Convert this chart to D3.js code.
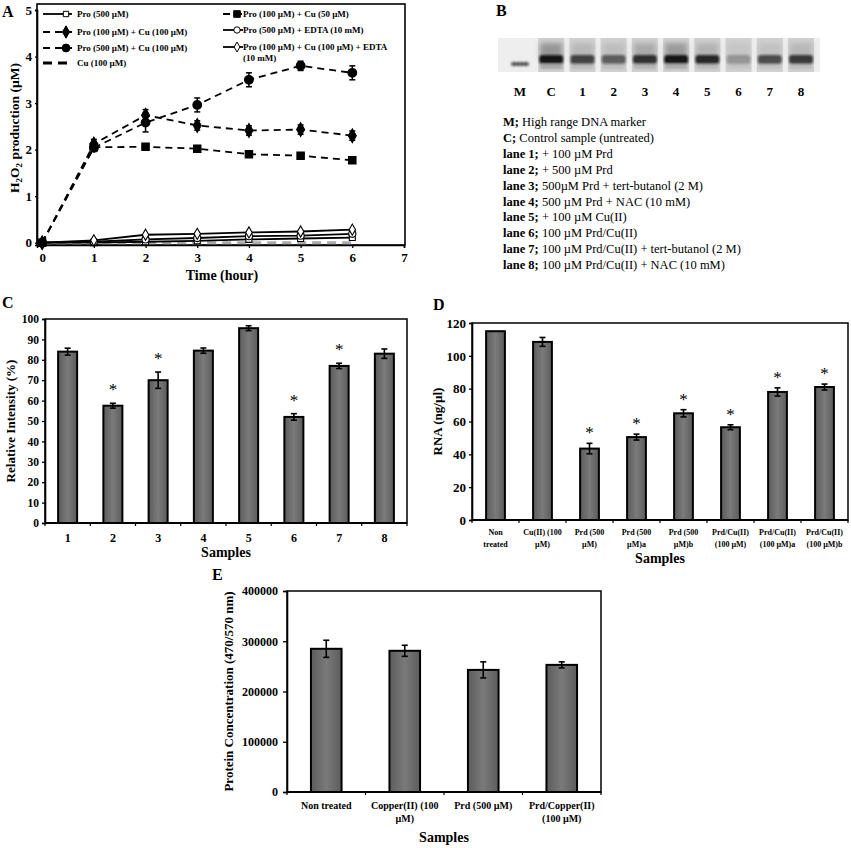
<!DOCTYPE html>
<html>
<head>
<meta charset="utf-8">
<script src="https://cdn.jsdelivr.net/npm/d3@7"></script>
<style>
  body { margin: 0; background: #fff; }
  text { font-family: "Liberation Serif", "Times New Roman", serif; }
</style>
</head>
<body>
<svg id="fig" width="851" height="848"></svg>
<script>
// ---- panel A : H2O2 production over time
const timeHours = [0, 1, 2, 3, 4, 5, 6];
const proOnly   = [0, 0.00, 0.02, 0.04, 0.07, 0.09, 0.11];
const proEdta   = [0, 0.02, 0.07, 0.10, 0.14, 0.15, 0.19];
const proCuEdta = [0, 0.05, 0.17, 0.19, 0.22, 0.24, 0.28];
const cuOnly    = [0, 0.00, 0.00, 0.00, 0.00, 0.00, 0.00];
const proCu50   = [0, 2.05, 2.06, 2.02, 1.90, 1.87, 1.77];
const proCu100  = [0, 2.12, 2.74, 2.52, 2.41, 2.43, 2.30];
const pro500Cu  = [0, 2.04, 2.58, 2.96, 3.50, 3.80, 3.65];
const errCu50   = [0.03, 0.05, 0.05, 0.04, 0.05, 0.05, 0.06];
const errCu100  = [0.03, 0.10, 0.12, 0.10, 0.10, 0.10, 0.10];
const err500Cu  = [0.03, 0.08, 0.20, 0.15, 0.15, 0.10, 0.15];
const ticksA_y  = [0, 1, 2, 3, 4, 5];
const ticksA_x  = [0, 1, 2, 3, 4, 5, 6, 7];

// ---- panel B : gel
const laneLabels    = ["M", "C", "1", "2", "3", "4", "5", "6", "7", "8"];
const bandStrength  = [0.75, 1.0, 0.75, 0.6, 0.85, 1.0, 0.9, 0.3, 0.7, 0.8];
const smearStrength = [0, 0.7, 0.35, 0.3, 0.5, 0.65, 0.4, 0.2, 0.25, 0.35];
const gelKeyBold = ["M;", "C;", "lane 1;", "lane 2;", "lane 3;", "lane 4;", "lane 5;", "lane 6;", "lane 7;", "lane 8;"];
const gelKeyText = [" High range DNA marker", " Control sample (untreated)", " + 100 µM Prd", " + 500 µM Prd",
  " 500µM Prd + tert-butanol (2 M)", " 500 µM Prd + NAC (10 mM)", " + 100 µM Cu(II)", " 100 µM Prd/Cu(II)",
  " 100 µM Prd/Cu(II) + tert-butanol (2 M)", " 100 µM Prd/Cu(II) + NAC (10 mM)"];

// ---- panel C : relative intensity
const samplesC     = ["1", "2", "3", "4", "5", "6", "7", "8"];
const intensityC   = [84, 57.5, 70, 84.5, 95.5, 52, 77, 83];
const intensityErr = [1.7, 1.2, 4.0, 1.3, 1.2, 1.6, 1.3, 2.3];
const starsC       = [false, true, true, false, false, true, true, false];
const ticksC       = [0, 10, 20, 30, 40, 50, 60, 70, 80, 90, 100];

// ---- panel D : RNA
const samplesD = [["Non", "treated"], ["Cu(II) (100", "µM)"], ["Prd (500", "µM)"], ["Prd (500", "µM)a"],
  ["Prd (500", "µM)b"], ["Prd/Cu(II)", "(100 µM)"], ["Prd/Cu(II)", "(100 µM)a"], ["Prd/Cu(II)", "(100 µM)b"]];
const rnaD    = [115, 108.5, 43.5, 50.5, 65, 56.5, 78, 81];
const rnaErr  = [0, 2.7, 3.2, 1.8, 2.2, 1.5, 2.5, 1.8];
const starsD  = [false, false, true, true, true, true, true, true];
const ticksD  = [0, 20, 40, 60, 80, 100, 120];

// ---- panel E : protein
const samplesE   = [["Non treated"], ["Copper(II) (100", "µM)"], ["Prd (500 µM)"], ["Prd/Copper(II)", "(100 µM)"]];
const proteinE   = [285000, 281000, 243000, 253000];
const proteinErr = [17000, 11000, 16000, 6000];
const ticksE     = [0, 100000, 200000, 300000, 400000];

const svg = d3.select("#fig");
const defs = svg.append("defs");
const grad = defs.append("linearGradient").attr("id", "barGrad").attr("x1", 0).attr("x2", 1).attr("y1", 0).attr("y2", 0);
grad.append("stop").attr("offset", "0%").attr("stop-color", "#5c5c5c");
grad.append("stop").attr("offset", "50%").attr("stop-color", "#7a7a7a");
grad.append("stop").attr("offset", "100%").attr("stop-color", "#5c5c5c");
defs.append("filter").attr("id", "blur").attr("x", "-30%").attr("y", "-60%").attr("width", "160%").attr("height", "220%")
  .append("feGaussianBlur").attr("stdDeviation", 1.3);
defs.append("filter").attr("id", "blur2").attr("x", "-30%").attr("y", "-60%").attr("width", "160%").attr("height", "220%")
  .append("feGaussianBlur").attr("stdDeviation", 2.5);

function styleAxis(sel, size) {
  sel.select(".domain").attr("stroke", "#000").attr("stroke-width", 1.6);
  sel.selectAll(".tick line").attr("stroke", "#000").attr("stroke-width", 1.3);
  sel.selectAll(".tick text").attr("fill", "#000").attr("font-size", size).attr("font-weight", "bold")
    .attr("font-family", "Liberation Serif, serif");
}

function panelLetter(txt, x, y) {
  svg.append("text").attr("x", x).attr("y", y).text(txt)
    .attr("font-family", "Liberation Sans, Arial, sans-serif").attr("font-weight", "bold").attr("font-size", 16);
}

// ================= Panel A =================
(function () {
  const g = svg.append("g");
  const x = d3.scaleLinear().domain([-0.1, 7]).range([37, 404]);
  const y = d3.scaleLinear().domain([-0.05, 5]).range([245, 10]);

  g.append("rect").attr("x", 37).attr("y", 4).attr("width", 368).attr("height", 241)
    .attr("fill", "none").attr("stroke", "#000").attr("stroke-width", 1.6);

  const ya = g.append("g").attr("transform", "translate(37,0)")
    .call(d3.axisLeft(y).tickValues(ticksA_y).tickSize(2).tickPadding(3).tickFormat(d3.format("d")));
  styleAxis(ya, 13);
  const xa = g.append("g").attr("transform", "translate(0,245)")
    .call(d3.axisBottom(x).tickValues(ticksA_x).tickSize(3).tickPadding(5).tickFormat(d3.format("d")));
  styleAxis(xa, 13);

  const series = [
    { name: "Pro (500 µM)", vals: proOnly, err: null, dash: null, w: 1.8, sym: d3.symbolSquare, size: 36, open: true, col: 0, row: 0 },
    { name: "Pro (100 µM) + Cu (100 µM)", vals: proCu100, err: errCu100, dash: "7,5", w: 1.8, sym: d3.symbolDiamond, size: 55, open: false, col: 0, row: 1 },
    { name: "Pro (500 µM) + Cu (100 µM)", vals: pro500Cu, err: err500Cu, dash: "7,5", w: 1.8, sym: d3.symbolCircle, size: 60, open: false, col: 0, row: 2 },
    { name: "Cu (100 µM)", vals: cuOnly, err: null, dash: "9,6", w: 3, sym: null, col: 0, row: 3, lineColor: "#aaa" },
    { name: "Pro (100 µM) + Cu (50 µM)", vals: proCu50, err: errCu50, dash: "7,5", w: 1.8, sym: d3.symbolSquare, size: 55, open: false, col: 1, row: 0 },
    { name: "Pro (500 µM) + EDTA (10 mM)", vals: proEdta, err: null, dash: null, w: 1.8, sym: d3.symbolCircle, size: 40, open: true, col: 1, row: 1 },
    { name: "Pro (100 µM) + Cu (100 µM) + EDTA", name2: "(10 mM)", vals: proCuEdta, err: null, dash: null, w: 1.8, sym: d3.symbolDiamond, size: 36, open: true, col: 1, row: 2 }
  ];

  const line = d3.line().x((d, i) => x(timeHours[i])).y(d => y(d));
  const drawOrder = [3, 0, 5, 6, 4, 1, 2];
  drawOrder.forEach(k => {
    const s = series[k];
    g.append("path").attr("d", line(s.vals)).attr("fill", "none")
      .attr("stroke", s.lineColor || "#000").attr("stroke-width", s.w)
      .attr("stroke-dasharray", s.dash);
    if (s.err) {
      s.vals.forEach((v, i) => {
        const cx = x(timeHours[i]);
        g.append("line").attr("x1", cx).attr("x2", cx).attr("y1", y(v - s.err[i])).attr("y2", y(v + s.err[i]))
          .attr("stroke", "#000").attr("stroke-width", 1.5);
        [v - s.err[i], v + s.err[i]].forEach(e => g.append("line").attr("x1", cx - 3).attr("x2", cx + 3)
          .attr("y1", y(e)).attr("y2", y(e)).attr("stroke", "#000").attr("stroke-width", 1.5));
      });
    }
    if (s.sym) {
      g.selectAll(null).data(s.vals).join("path")
        .attr("transform", (d, i) => `translate(${x(timeHours[i])},${y(d)})`)
        .attr("d", d3.symbol().type(s.sym).size(s.size))
        .attr("fill", s.open ? "#fff" : "#000").attr("stroke", "#000").attr("stroke-width", 1.1);
    }
  });

  // legend
  const colX = [[43, 72, 77], [223, 243, 245]];
  const rowY = [[14, 32, 48, 63], [14, 30, 47]];
  series.forEach(s => {
    const [l0, l1, tx] = colX[s.col];
    const ly = rowY[s.col][s.row];
    g.append("line").attr("x1", l0).attr("x2", l1).attr("y1", ly).attr("y2", ly)
      .attr("stroke", "#000").attr("stroke-width", s.w).attr("stroke-dasharray", s.dash);
    if (s.sym) {
      g.append("path").attr("transform", `translate(${l1 - 6},${ly})`)
        .attr("d", d3.symbol().type(s.sym).size(s.size * 0.8))
        .attr("fill", s.open ? "#fff" : "#000").attr("stroke", "#000").attr("stroke-width", 1);
    }
    g.append("text").attr("x", tx - (s.col ? 2 : 0)).attr("y", ly + 3).attr("font-size", 9).attr("font-weight", "bold").text(s.name);
    if (s.name2) g.append("text").attr("x", tx - 2).attr("y", ly + 14).attr("font-size", 9).attr("font-weight", "bold").text(s.name2);
  });

  const yl = g.append("text").attr("transform", "translate(19,128) rotate(-90)").attr("text-anchor", "middle")
    .attr("font-size", 13.5).attr("font-weight", "bold");
  yl.append("tspan").text("H");
  yl.append("tspan").text("2").attr("font-size", 9).attr("dy", 3);
  yl.append("tspan").text("O").attr("dy", -3);
  yl.append("tspan").text("2").attr("font-size", 9).attr("dy", 3);
  yl.append("tspan").text(" production (µM)").attr("dy", -3);

  g.append("text").attr("x", 222).attr("y", 280).attr("text-anchor", "middle")
    .attr("font-size", 14).attr("font-weight", "bold").text("Time (hour)");
})();

// ================= Panel B =================
(function () {
  const g = svg.append("g");
  const lx = d3.scalePoint().domain(laneLabels).range([520, 801]);
  const bandOp = d3.scaleLinear().domain([0, 1]).range([0, 0.95]);
  const smearCol = d3.scaleLinear().domain([0, 1]).range(["#d9d9d9", "#7a7a7a"]);

  g.append("rect").attr("x", 498).attr("y", 38).attr("width", 322).attr("height", 34).attr("fill", "#eeeeee");
  laneLabels.forEach((lab, i) => {
    const cx = lx(lab);
    if (i > 0) {
      g.append("rect").attr("x", cx - 13).attr("y", 38).attr("width", 26).attr("height", 34).attr("fill", "#d0d0d0");
      g.append("rect").attr("x", cx - 11).attr("y", 43).attr("width", 22).attr("height", 15)
        .attr("fill", smearCol(smearStrength[i])).attr("filter", "url(#blur2)");
      g.append("rect").attr("x", cx - 12).attr("y", 55).attr("width", 24).attr("height", 9).attr("rx", 3)
        .attr("fill", "#111").attr("opacity", bandOp(bandStrength[i])).attr("filter", "url(#blur)");
      g.append("rect").attr("x", cx - 11).attr("y", 63).attr("width", 22).attr("height", 6)
        .attr("fill", "#999").attr("opacity", smearStrength[i]).attr("filter", "url(#blur)");
    } else {
      g.append("rect").attr("x", cx - 9).attr("y", 62).attr("width", 18).attr("height", 4).attr("rx", 2)
        .attr("fill", "#222").attr("opacity", bandOp(bandStrength[i])).attr("filter", "url(#blur)");
    }
    g.append("text").attr("x", cx).attr("y", 96).attr("text-anchor", "middle")
      .attr("font-size", 13).attr("font-weight", "bold").text(lab);
  });

  gelKeyBold.forEach((b, i) => {
    const t = g.append("text").attr("x", 503).attr("y", 126 + i * 15.9).attr("font-size", 12.5);
    t.append("tspan").attr("font-weight", "bold").text(b);
    t.append("tspan").text(gelKeyText[i]);
  });
})();

// ================= bar panels =================
function barPanel(cfg) {
  const g = svg.append("g");
  const n = cfg.values.length;
  const pin = 1 - cfg.barFrac;
  const x = d3.scaleBand().domain(d3.range(n)).range([cfg.x0, cfg.x1]).paddingInner(pin).paddingOuter(pin / 2);
  const y = d3.scaleLinear().domain([0, cfg.max]).range([cfg.y1, cfg.y0]);
  const step = x.step();

  g.append("rect").attr("x", cfg.x0).attr("y", cfg.y0).attr("width", cfg.x1 - cfg.x0).attr("height", cfg.y1 - cfg.y0)
    .attr("fill", "none").attr("stroke", "#000").attr("stroke-width", 1.5);

  const ya = g.append("g").attr("transform", `translate(${cfg.x0},0)`)
    .call(d3.axisLeft(y).tickValues(cfg.ticks).tickSize(cfg.tickSize).tickPadding(cfg.tickPad).tickFormat(d3.format("d")));
  styleAxis(ya, cfg.tickFont);

  g.append("line").attr("x1", cfg.x0).attr("x2", cfg.x1).attr("y1", cfg.y1).attr("y2", cfg.y1)
    .attr("stroke", "#000").attr("stroke-width", 1.8);
  g.selectAll(null).data(d3.range(n + 1)).join("line")
    .attr("x1", i => cfg.x0 + i * step).attr("x2", i => cfg.x0 + i * step)
    .attr("y1", cfg.y1).attr("y2", cfg.y1 + 3).attr("stroke", "#000").attr("stroke-width", 1.2);

  g.selectAll(null).data(cfg.values).join("rect")
    .attr("x", (d, i) => x(i)).attr("y", d => y(d))
    .attr("width", x.bandwidth()).attr("height", d => y(0) - y(d))
    .attr("fill", "url(#barGrad)").attr("stroke", "#000").attr("stroke-width", 2);

  cfg.values.forEach((v, i) => {
    const e = cfg.errs[i];
    const cx = x(i) + x.bandwidth() / 2;
    if (e > 0) {
      g.append("line").attr("x1", cx).attr("x2", cx).attr("y1", y(v - e)).attr("y2", y(v + e))
        .attr("stroke", "#000").attr("stroke-width", 1.6);
      [v - e, v + e].forEach(k => g.append("line").attr("x1", cx - 3).attr("x2", cx + 3)
        .attr("y1", y(k)).attr("y2", y(k)).attr("stroke", "#000").attr("stroke-width", 1.6));
    }
    if (cfg.stars && cfg.stars[i]) {
      g.append("text").attr("x", cx).attr("y", y(v + e) - cfg.starGap).attr("text-anchor", "middle")
        .attr("font-size", 17).text("*");
    }
    const lab = cfg.labels[i];
    const lines = Array.isArray(lab) ? lab : [lab];
    lines.forEach((ln, j) => g.append("text").attr("x", cx).attr("y", cfg.labelY + j * cfg.labelGap)
      .attr("text-anchor", "middle").attr("font-size", cfg.labelFont).attr("font-weight", "bold").text(ln));
  });

  g.append("text").attr("x", (cfg.x0 + cfg.x1) / 2).attr("y", cfg.titleY).attr("text-anchor", "middle")
    .attr("font-size", 14).attr("font-weight", "bold").text("Samples");
  g.append("text").attr("transform", `translate(${cfg.yTitleX},${(cfg.y0 + cfg.y1) / 2}) rotate(-90)`)
    .attr("text-anchor", "middle").attr("font-size", cfg.yTitleFont).attr("font-weight", "bold").text(cfg.yTitle);
}

barPanel({ values: intensityC, errs: intensityErr, stars: starsC, labels: samplesC, max: 100, ticks: ticksC,
  x0: 45, x1: 407, y0: 319, y1: 523, barFrac: 0.42, tickSize: 3, tickPad: 3, tickFont: 11.5,
  starGap: 8, labelY: 542, labelGap: 11, labelFont: 12, titleY: 557,
  yTitle: "Relative Intensity (%)", yTitleX: 15, yTitleFont: 13 });

barPanel({ values: rnaD, errs: rnaErr, stars: starsD, labels: samplesD, max: 120, ticks: ticksD,
  x0: 472, x1: 848, y0: 323, y1: 520, barFrac: 0.40, tickSize: 3, tickPad: 3, tickFont: 13,
  starGap: 5, labelY: 535, labelGap: 11.5, labelFont: 8, titleY: 563,
  yTitle: "RNA (ng/µl)", yTitleX: 442, yTitleFont: 13 });

barPanel({ values: proteinE, errs: proteinErr, stars: null, labels: samplesE, max: 400000, ticks: ticksE,
  x0: 287, x1: 601, y0: 591, y1: 792, barFrac: 0.39, tickSize: 4, tickPad: 5, tickFont: 12,
  starGap: 5, labelY: 809, labelGap: 13, labelFont: 10, titleY: 842,
  yTitle: "Protein Concentration (470/570 nm)", yTitleX: 233, yTitleFont: 13 });

panelLetter("A", 2, 17);
panelLetter("B", 496, 16);
panelLetter("C", 2, 308);
panelLetter("D", 433, 310);
panelLetter("E", 212, 580);
</script>
</body>
</html>
